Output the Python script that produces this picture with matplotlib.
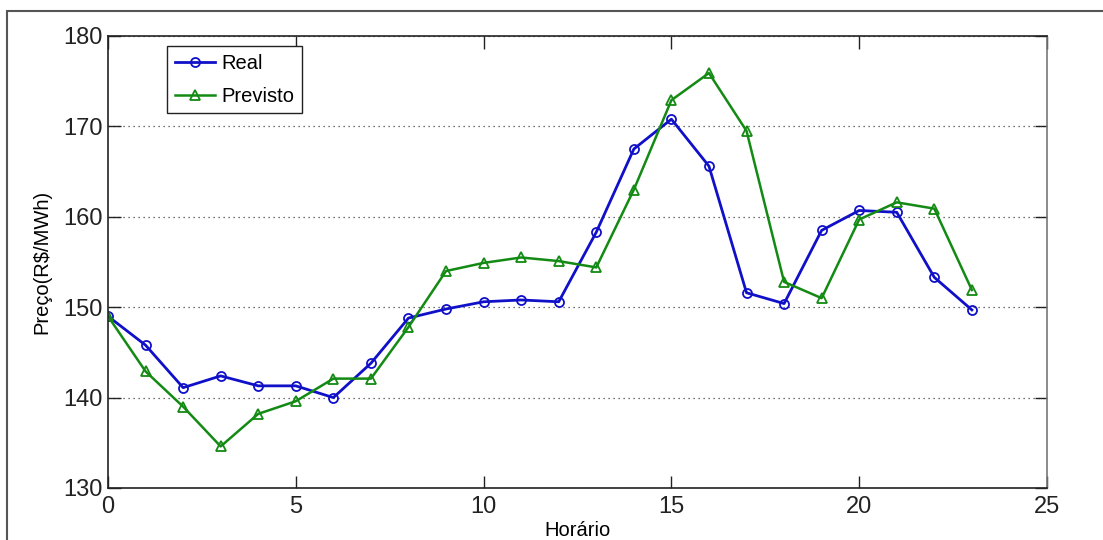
import numpy as np
import matplotlib
matplotlib.use("Agg")
import matplotlib.pyplot as plt
from matplotlib.patches import Rectangle

# preço horário real e previsto (R$/MWh)
horas = list(range(24))
real = [149.0, 145.8, 141.1, 142.4, 141.3, 141.3, 140.0, 143.8,
        148.8, 149.8, 150.6, 150.8, 150.6, 158.3, 167.5, 170.8,
        165.6, 151.6, 150.4, 158.5, 160.7, 160.5, 153.3, 149.7]
previsto = [149.0, 142.9, 139.0, 134.6, 138.2, 139.6, 142.1, 142.1,
            147.8, 154.0, 154.9, 155.5, 155.1, 154.4, 163.0, 172.9,
            175.9, 169.5, 152.8, 151.0, 159.7, 161.6, 160.9, 151.9]
xticks = [0, 5, 10, 15, 20, 25]
yticks = [130, 140, 150, 160, 170, 180]

plt.rcParams['font.family'] = ['Liberation Sans', 'DejaVu Sans']

fig = plt.figure(figsize=(11.03, 5.40), dpi=100)
ax = fig.add_axes([108 / 1103, 1 - 488 / 540, 939 / 1103, 452 / 540])

# moldura externa
fig.patches.append(Rectangle((7 / 1103, -0.1), 1.2, 1 - 11 / 540 + 0.1,
                             transform=fig.transFigure, fill=False,
                             edgecolor='#555555', linewidth=1.5))

ax.plot(horas, real, color='#1010c8', linewidth=2.0, marker='o',
        markersize=6.5, markerfacecolor='none', markeredgewidth=1.3,
        label='Real')
ax.plot(horas, previsto, color='#138a13', linewidth=1.8, marker='^',
        markersize=7, markerfacecolor='none', markeredgewidth=1.3,
        label='Previsto')

ax.set_xlim(0, 25)
ax.set_ylim(130, 180)
ax.set_xticks(xticks)
ax.set_yticks(yticks)
ax.tick_params(direction='in', length=9, width=1, labelsize=17,
               top=True, right=True, colors='#222222')
ax.tick_params(axis='x', pad=6)
ax.tick_params(axis='y', pad=4)
ax.yaxis.grid(True, linestyle=(0, (1, 3)), color='#444444', linewidth=0.9)
for s in ['left', 'bottom', 'top']:
    ax.spines[s].set_color('#222222')
ax.spines['right'].set_color('#777777')
for s in ax.spines.values():
    s.set_linewidth(1.2)

ax.set_xlabel('Horário', fontsize=14.5, labelpad=2)
ax.set_ylabel('Preço(R$/MWh)', fontsize=14.5, labelpad=8)

leg = ax.legend(loc='upper left', bbox_to_anchor=(0.0628, 0.978),
                borderaxespad=0, fancybox=False, fontsize=14.5,
                handlelength=2.0, handletextpad=0.3, labelspacing=0.7,
                borderpad=0.38, framealpha=1)
leg.get_frame().set_edgecolor('#222222')
leg.get_frame().set_linewidth(1.0)

fig.savefig('out.png', dpi=100)
